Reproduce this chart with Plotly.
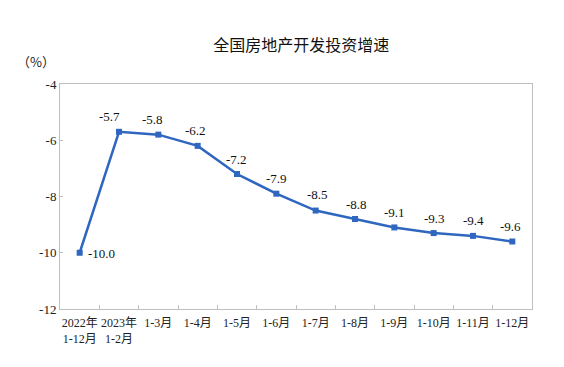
import plotly.graph_objects as go

categories = ["2022年<br>1-12月", "2023年<br>1-2月", "1-3月", "1-4月", "1-5月", "1-6月",
              "1-7月", "1-8月", "1-9月", "1-10月", "1-11月", "1-12月"]
growth = [-10.0, -5.7, -5.8, -6.2, -7.2, -7.9, -8.5, -8.8, -9.1, -9.3, -9.4, -9.6]
y_ticks = [-12, -10, -8, -6, -4]

title = "全国房地产开发投资增速"
unit = "（%）"

line_color = "#2f66c0"
serif = "Liberation Serif, Times New Roman, Noto Sans CJK SC, serif"

# label placement (style only)
label_dx = [6, -10, -6, -2, -1, 0, 2, 1, 0, 1, 0, -2]
label_dy = [-1, 15, 15, 15, 15, 15, 16, 15, 15, 15, 15, 15]
label_anchor = ["left"] + ["center"] * (len(growth) - 1)

fig = go.Figure()
fig.add_trace(go.Scatter(
    x=categories, y=growth,
    mode="lines+markers",
    line=dict(color=line_color, width=2.5),
    marker=dict(symbol="square", size=6, color=line_color),
    cliponaxis=False,
    hoverinfo="skip",
))

annotations = [dict(text=unit, xref="paper", yref="paper", x=-0.051, y=1.098,
                    xanchor="center", yanchor="middle", showarrow=False,
                    font=dict(family="Noto Sans CJK SC", size=13, color="#222222"))]
for c, v, dx, dy, anc in zip(categories, growth, label_dx, label_dy, label_anchor):
    annotations.append(dict(
        x=c, y=v, xref="x", yref="y", text=f"{v:.1f}", showarrow=False,
        xanchor=anc, yanchor="middle", xshift=dx, yshift=dy,
        font=dict(family=serif, size=13, color="#111111"),
    ))

fig.update_layout(
    width=564, height=367,
    margin=dict(l=60, r=32, t=84, b=58),
    paper_bgcolor="white", plot_bgcolor="white",
    showlegend=False,
    title=dict(text=title, x=0.534, xanchor="center", y=0.875, yanchor="middle",
               font=dict(family="Noto Sans CJK SC", size=16, color="#111111")),
    annotations=annotations,
)

fig.update_xaxes(
    type="category", automargin=False,
    range=[-0.5, len(categories) - 0.5],
    showline=True, linecolor="#bfbfbf", linewidth=1, mirror=True,
    ticks="inside", ticklen=4, tickcolor="#bfbfbf", tickson="boundaries",
    showgrid=False, ticklabelstandoff=3,
    tickfont=dict(family=serif, size=12, color="#222222"),
    tickangle=0,
)
fig.update_yaxes(
    automargin=False,
    range=[-12, -4], tickvals=y_ticks, ticktext=[str(v) for v in y_ticks],
    showline=True, linecolor="#bfbfbf", linewidth=1, mirror=True,
    ticks="inside", ticklen=3, tickcolor="#bfbfbf",
    showgrid=False, zeroline=False,
    tickfont=dict(family=serif, size=13, color="#222222"),
)

fig.write_html("out.html", config={"displayModeBar": False},
               post_script="document.body.style.margin='0';")
